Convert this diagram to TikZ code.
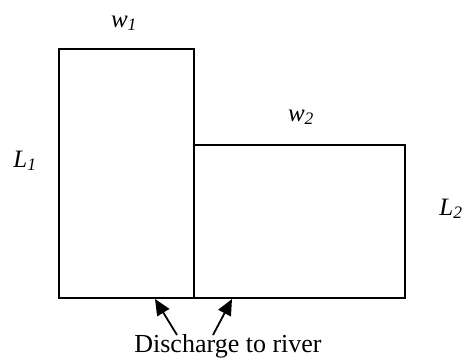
\documentclass[tikz,border=0pt]{standalone}
\usepackage{fontspec}
\setmainfont{Liberation Serif}
\usetikzlibrary{arrows.meta}
\tikzset{
  plot/.style={draw, line width=1.8pt, inner sep=0pt},
  lbl/.style={font=\fontsize{25}{30}\selectfont\itshape, inner sep=0pt, anchor=base},
  txt/.style={font=\fontsize{26}{30}\selectfont, inner sep=0pt, anchor=base},
  arr/.style={line width=1.8pt, -{Triangle[length=16pt,width=14pt]}}
}
\begin{document}
\begin{tikzpicture}[x=1pt,y=-1pt]
\useasboundingbox (0,0) rectangle (469,359);
\node[plot, minimum width=135pt, minimum height=249pt] (r1) at (126.5,173.5) {};
\node[plot, minimum width=211pt, minimum height=153pt] (r2) at (299.5,221.5) {};
\node[lbl] (w1) at (124,27) {w\textsubscript{1}};
\node[lbl] (w2) at (301,121) {w\textsubscript{2}};
\node[lbl] (L1) at (25,167) {L\textsubscript{1}};
\node[lbl] (L2) at (451,215) {L\textsubscript{2}};
\node[txt] (dis) at (228,352.5) {Discharge to river};
\coordinate (tl) at (177,335);
\coordinate (tr) at (213,335);
\coordinate (hl) at (155,299);
\coordinate (hr) at (232,299);
\draw[arr] (tl) -- (hl);
\draw[arr] (tr) -- (hr);
\end{tikzpicture}
\end{document}
